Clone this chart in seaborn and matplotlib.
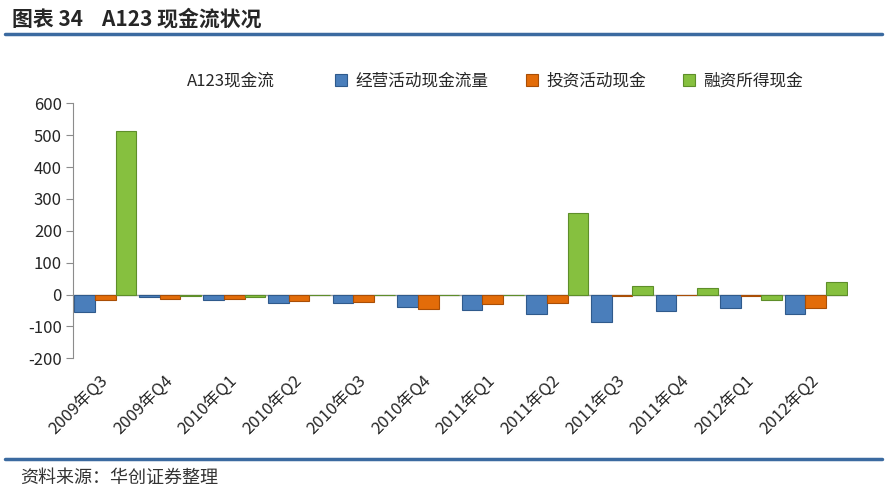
import pandas as pd
import matplotlib.pyplot as plt
import seaborn as sns
import numpy as np

# --- data ---
quarters = ["2009年Q3", "2009年Q4", "2010年Q1", "2010年Q2", "2010年Q3", "2010年Q4",
            "2011年Q1", "2011年Q2", "2011年Q3", "2011年Q4", "2012年Q1", "2012年Q2"]
operating = [-55, -7, -18, -26, -26, -39, -47, -62, -86, -52, -42, -62]
investing = [-18, -15, -14, -20, -24, -44, -31, -25, -3, -2, -3, -41]
financing = [513, -5, -7, 0, 0, 0, 0, 255, 26, 22, -18, 40]
series_names = ["经营活动现金流量", "投资活动现金", "融资所得现金"]
colors = ["#4A7EBB", "#E36C09", "#86C03F"]
edge_colors = ["#2F5A8C", "#A94E06", "#5E8E2A"]

df = pd.DataFrame({
    "quarter": quarters * 3,
    "value": operating + investing + financing,
    "series": [series_names[0]] * 12 + [series_names[1]] * 12 + [series_names[2]] * 12,
})

sns.set_style("white")
plt.rcParams["font.family"] = ["Noto Sans CJK SC", "DejaVu Sans"]
plt.rcParams["axes.unicode_minus"] = False

fig = plt.figure(figsize=(8.87, 4.94), dpi=100)
ax = fig.add_axes([73 / 887, 1 - 358.3 / 494, (848 - 73) / 887, (358.3 - 103.3) / 494])

sns.barplot(data=df, x="quarter", y="value", hue="series", order=quarters,
            hue_order=series_names, palette=colors, width=0.96, gap=0,
            saturation=1, legend=False, ax=ax)

# darker outline per series to hint at the bevelled bars
for i, cont in enumerate(ax.containers):
    for patch in cont:
        patch.set_edgecolor(edge_colors[i])
        patch.set_linewidth(0.8)

ax.set_xlim(-0.5, 11.5)
ax.set_ylim(-200, 600)
ax.set_yticks(range(-200, 601, 100))
ax.axhline(0, color="#9a9a9a", lw=1, zorder=0.5)

for s in ["top", "right", "bottom"]:
    ax.spines[s].set_visible(False)
ax.spines["left"].set_color("#8c8c8c")
ax.tick_params(axis="y", direction="out", length=5, color="#8c8c8c",
               labelsize=12, pad=3, left=True)
ax.tick_params(axis="x", length=0, labelsize=12, pad=14)
ax.set_xlabel("")
ax.set_ylabel("")
for lab in ax.get_xticklabels():
    lab.set_rotation(45)
    lab.set_ha("right")
    lab.set_va("center")
    lab.set_rotation_mode("anchor")

# chart title and legend
fig.text(231 / 887, 1 - 81 / 494, "A123现金流", ha="center", va="center", fontsize=12)
handles = [plt.Rectangle((0, 0), 1, 1, facecolor=c, edgecolor=e, lw=0.8)
           for c, e in zip(colors, edge_colors)]
fig.legend(handles, series_names, loc="center left", bbox_to_anchor=(320 / 887, 1 - 81 / 494),
           ncol=3, frameon=False, fontsize=12, handlelength=0.75, handleheight=0.75,
           handletextpad=0.5, columnspacing=2.2)

# report header / footer
fig.text(12 / 887, 1 - 19 / 494, "图表 34    A123 现金流状况", ha="left", va="center",
         fontsize=15, fontweight="bold")
fig.add_artist(plt.Line2D([5 / 887, 882 / 887], [1 - 34 / 494] * 2, color="#3B6AA0", lw=2.5))
fig.add_artist(plt.Line2D([5 / 887, 882 / 887], [1 - 459 / 494] * 2, color="#3B6AA0", lw=2.5))
fig.text(20 / 887, 1 - 478 / 494, "资料来源：华创证券整理", ha="left", va="center",
         fontsize=13, color="#333333")

fig.savefig("out.png", dpi=100)
